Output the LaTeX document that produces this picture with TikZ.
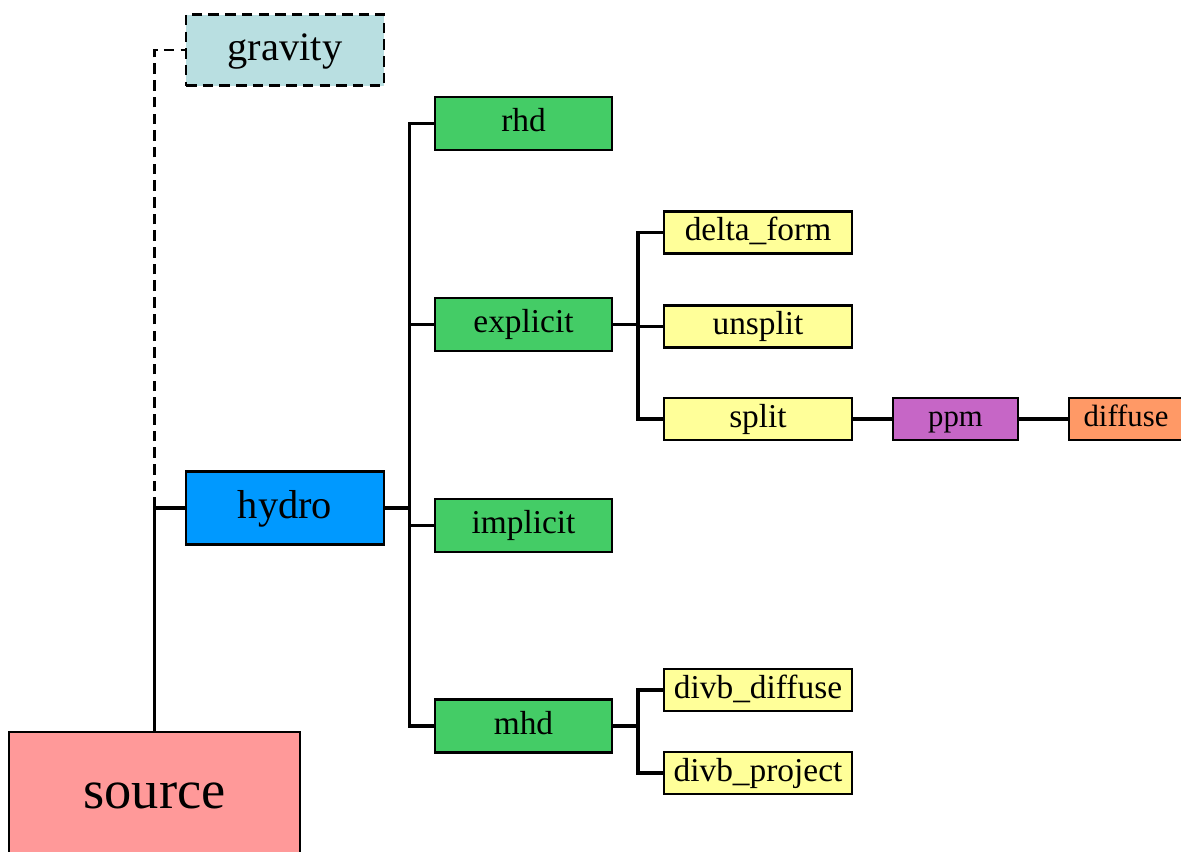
\documentclass[tikz,border=0pt]{standalone}
\usepackage{fontspec}
\setmainfont{Liberation Serif}
\usepackage{tikz}
\usetikzlibrary{positioning, calc}

\definecolor{gravcol}{RGB}{185,223,225}
\definecolor{hydrocol}{RGB}{0,153,255}
\definecolor{sourcecol}{RGB}{255,153,153}
\definecolor{solvercol}{RGB}{68,204,102}
\definecolor{optcol}{RGB}{255,255,153}
\definecolor{ppmcol}{RGB}{198,102,198}
\definecolor{diffcol}{RGB}{255,153,102}

\begin{document}
\begin{tikzpicture}[
        x=0.02cm, y=-0.02cm,
        box/.style={draw, rectangle, line width=1.3pt, inner sep=0pt, align=center},
        big/.style={box, minimum width=198*0.02cm, font=\fontsize{23}{27}\selectfont,
                    text height=16pt, text depth=4.6pt},
        solver/.style={box, fill=solvercol, minimum width=177*0.02cm, minimum height=53*0.02cm,
                       font=\fontsize{19}{22}\selectfont, text height=13.3pt, text depth=3.8pt},
        option/.style={box, fill=optcol, minimum width=188*0.02cm, minimum height=42*0.02cm,
                       font=\fontsize{19}{22}\selectfont, text height=13.3pt, text depth=3.8pt},
        small/.style={box, minimum height=42*0.02cm, font=\fontsize{17.5}{21}\selectfont,
                      text height=12.2pt, text depth=3.5pt},
        link/.style={line width=2.1pt},
        weaklink/.style={line width=1.2pt, dash pattern=on 6pt off 3.5pt}
        ]
        \useasboundingbox (0,0) rectangle (1181,852);
        \clip (0,0) rectangle (1181,852);

        % Nodes
        \node[big, fill=gravcol, minimum height=71*0.02cm, dash pattern=on 6pt off 3.5pt] (gravity) at (285, 50) {gravity};
        \node[big, fill=hydrocol, minimum height=73*0.02cm] (hydro) at (285, 508) {hydro};
        \node[box, fill=sourcecol, minimum width=291*0.02cm, minimum height=126*0.02cm,
              font=\fontsize{31}{36}\selectfont, text height=21.7pt, text depth=6.2pt] (source) at (154.5, 795) {source};

        \node[solver] (rhd) at (523.5, 123.5) {rhd};
        \node[solver] (explicit) at (523.5, 324.5) {explicit};
        \node[solver] (implicit) at (523.5, 525.5) {implicit};
        \node[solver] (mhd) at (523.5, 726) {mhd};

        \node[option] (delta) at (758, 232.5) {delta\_form};
        \node[option] (unsplit) at (758, 326.5) {unsplit};
        \node[option] (split) at (758, 419) {split};
        \node[option] (divbdiff) at (758, 690) {divb\_diffuse};
        \node[option] (divbproj) at (758, 773) {divb\_project};

        \node[small, fill=ppmcol, minimum width=125*0.02cm] (ppm) at (955.5, 419) {ppm};
        \node[small, fill=diffcol, minimum width=114*0.02cm] (diffuse) at (1126, 419) {diffuse};

        % Bus lines, halfway between a box and its children
        \coordinate (hbus) at ($(hydro.east)!0.5!(hydro.east -| explicit.west)$);
        \coordinate (ebus) at ($(explicit.east)!0.5!(explicit.east -| unsplit.west)$);
        \coordinate (mbus) at ($(mhd.east)!0.5!(mhd.east -| divbdiff.west)$);

        % Connectors
        \draw[weaklink] (hydro.west -| source.north) |- (gravity.west);
        \draw[link] (source.north) |- (hydro.west);

        \draw[link] (hydro.east) -- (hbus);
        \draw[link] (rhd.west) -| (hbus) |- (mhd.west);
        \foreach \n in {explicit, implicit}
            \draw[link] (\n.west) -- (\n.west -| hbus);

        \draw[link] (explicit.east) -- (ebus);
        \draw[link] (delta.west) -| (ebus) |- (split.west);
        \draw[link] (unsplit.west) -- (unsplit.west -| ebus);

        \draw[link] (mhd.east) -- (mbus);
        \draw[link] (divbdiff.west) -| (mbus) |- (divbproj.west);

        \draw[link] (split) -- (ppm);
        \draw[link] (ppm) -- (diffuse);

    \end{tikzpicture}
\end{document}
